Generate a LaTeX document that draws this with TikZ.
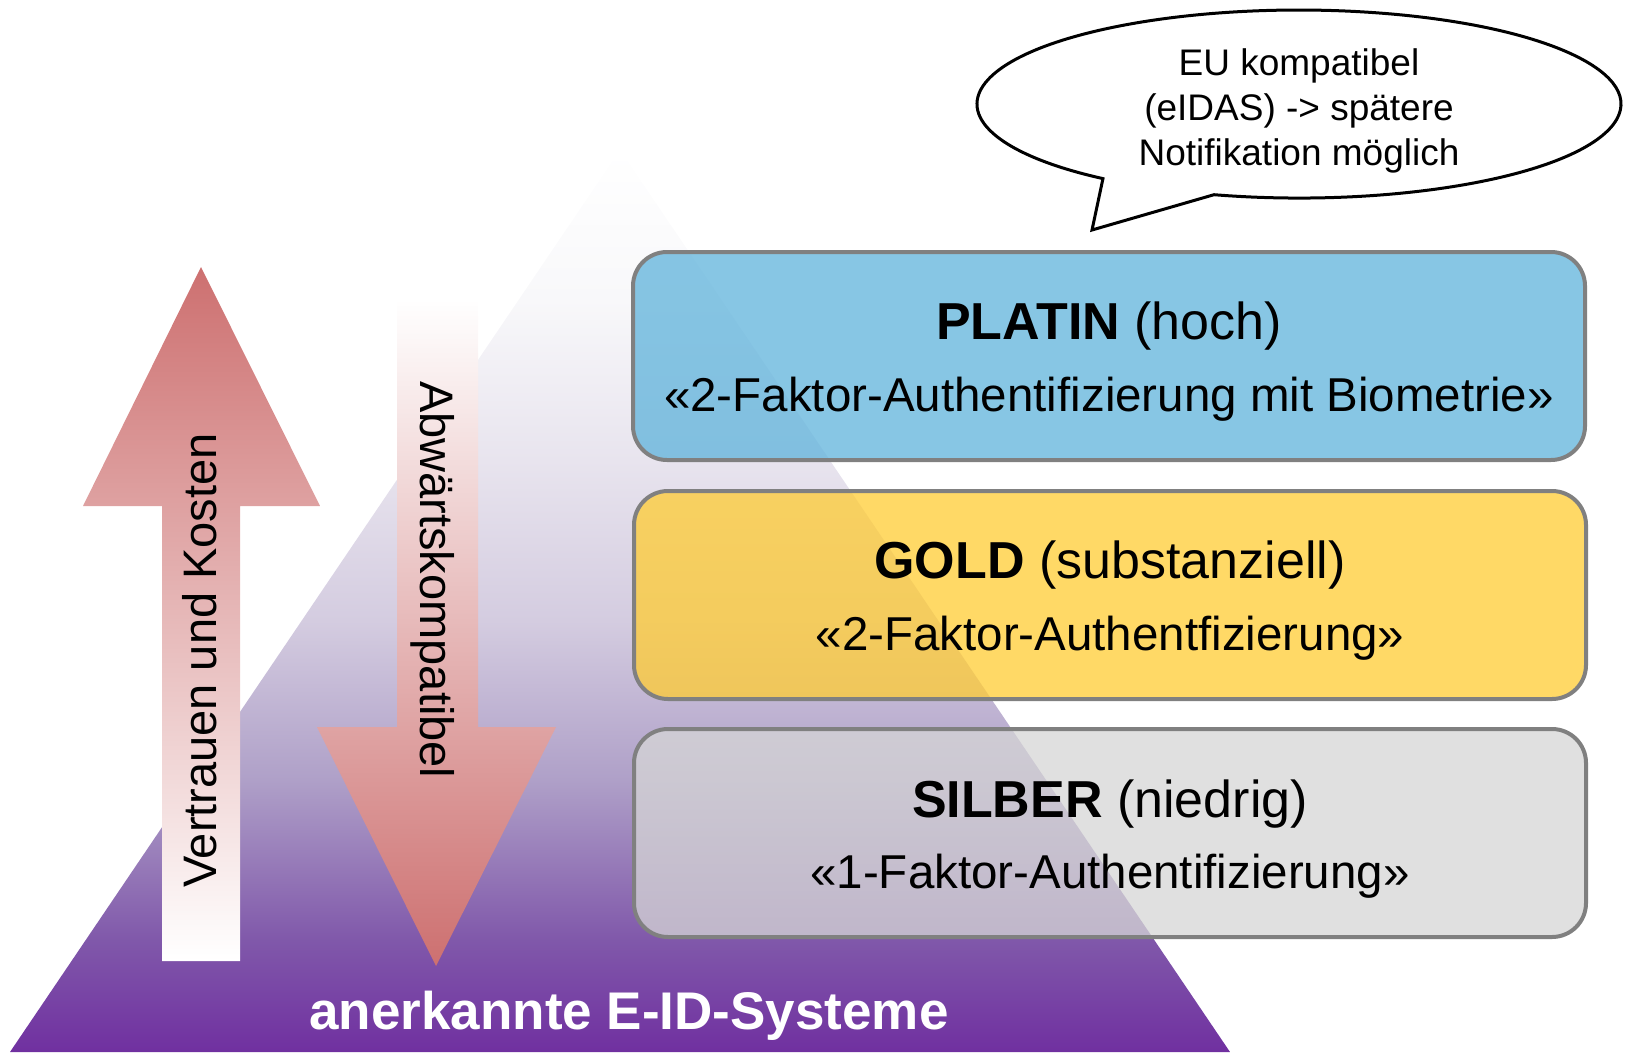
\documentclass[tikz,border=0pt]{standalone}
\usepackage{fontspec}
\setmainfont{Liberation Sans}
\definecolor{salmon}{RGB}{205,112,112}
\definecolor{pinkmid}{RGB}{238,208,208}
\definecolor{platinc}{RGB}{95,179,219}
\definecolor{goldc}{RGB}{255,204,51}
\definecolor{silberc}{RGB}{214,214,214}
\definecolor{bordergray}{RGB}{128,128,128}
\definecolor{py0}{RGB}{112,48,160}
\definecolor{py1}{RGB}{128,88,170}
\definecolor{py2}{RGB}{175,160,200}
\definecolor{py3}{RGB}{212,204,224}
\definecolor{py4}{RGB}{232,228,238}
\definecolor{py5}{RGB}{248,248,250}
\pgfdeclareverticalshading{pyramidshade}{100bp}{color(0bp)=(py0); color(25bp)=(py0);
  color(31.2bp)=(py1); color(40.1bp)=(py2); color(48.9bp)=(py3); color(57.8bp)=(py4);
  color(66.7bp)=(py5); color(75bp)=(white); color(100bp)=(white)}
\begin{document}
\begin{tikzpicture}[x=1pt,y=-1pt,
  levelbox/.style={draw=bordergray, line width=4pt, rounded corners=34pt,
    fill opacity=0.75, minimum width=952pt, minimum height=208pt, inner sep=0pt},
  titletext/.style={anchor=base, font=\fontsize{52}{60}\selectfont, inner sep=0pt},
  subtext/.style={anchor=base, font=\fontsize{47.5}{56}\selectfont, inner sep=0pt},
  bubtext/.style={anchor=base, font=\fontsize{37}{44}\selectfont, inner sep=0pt},
  vtext/.style={anchor=base west, font=\fontsize{47}{56}\selectfont, inner sep=0pt}]
\useasboundingbox (0,0) rectangle (1629,1052);

% pyramid
\shade[shading=pyramidshade]
  (10,1052) -- (620,150) -- (1230,1052) -- cycle;

% up arrow
\shade[top color=salmon, middle color=pinkmid, bottom color=white]
  (201,267) -- (320,506) -- (240,506) -- (240,961) -- (162,961) -- (162,506) -- (83,506) -- cycle;
% down arrow
\shade[top color=white, middle color=pinkmid, bottom color=salmon]
  (397,299) -- (478,299) -- (478,727) -- (556,727) -- (436,966) -- (317,727) -- (397,727) -- cycle;

\node[vtext, rotate=90] (vk) at (216,888) {Vertrauen und Kosten};
\node[vtext, rotate=-90] (ak) at (420,381) {Abwärtskompatibel};

% level boxes
\node[levelbox, fill=platinc] (platin) at (1109,356) {};
\node[levelbox, fill=goldc] (gold) at (1110,595) {};
\node[levelbox, fill=silberc] (silber) at (1110,833) {};

\node[titletext] (platinT) at (1109,339) {\textbf{PLATIN} (hoch)};
\node[subtext] (platinS) at (1109,411) {«2-Faktor-Authentifizierung mit Biometrie»};
\node[titletext] (goldT) at (1110,578) {\textbf{GOLD} (substanziell)};
\node[subtext] (goldS) at (1110,650) {«2-Faktor-Authentfizierung»};
\node[titletext] (silberT) at (1110,817) {\textbf{SILBER} (niedrig)};
\node[subtext] (silberS) at (1110,888) {«1-Faktor-Authentifizierung»};

\node[anchor=base, inner sep=0pt, text=white, font=\fontsize{53}{60}\selectfont\bfseries] (eid) at (629,1029) {anerkannte E-ID-Systeme};

% speech bubble
\draw[line width=3pt, fill=white]
  (1214,194.7) arc[start angle=105.3, end angle=-232.5, x radius=322, y radius=94]
  -- (1092,230) -- cycle;
\node[bubtext] (b1) at (1299,75) {EU kompatibel};
\node[bubtext] (b2) at (1299,120) {(eIDAS) -> spätere};
\node[bubtext] (b3) at (1299,165) {Notifikation möglich};
\end{tikzpicture}
\end{document}
